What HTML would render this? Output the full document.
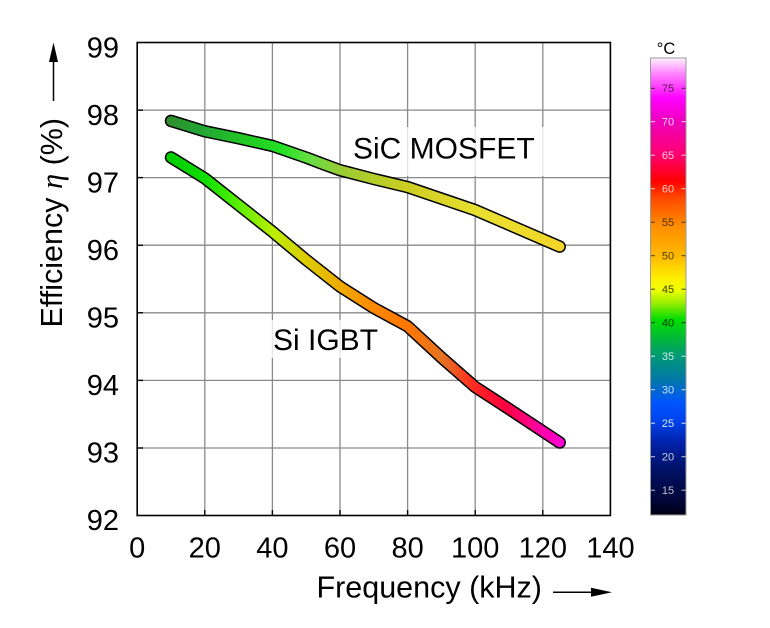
<!DOCTYPE html>
<html>
<head>
<meta charset="utf-8">
<style>
  html, body { margin: 0; padding: 0; background: #ffffff; }
  svg { display: block; }
  text { font-family: "Liberation Sans", Arial, sans-serif; fill: #000; }
</style>
</head>
<body>
<svg width="770" height="628" viewBox="0 0 770 628" xmlns="http://www.w3.org/2000/svg">
  <defs>
    <linearGradient id="gSiC" gradientUnits="userSpaceOnUse" x1="165" y1="0" x2="566" y2="0">
      <stop offset="0" stop-color="#2e8b2e"/>
      <stop offset="0.10" stop-color="#22a833"/>
      <stop offset="0.21" stop-color="#22cc22"/>
      <stop offset="0.29" stop-color="#22e022"/>
      <stop offset="0.36" stop-color="#66dd44"/>
      <stop offset="0.44" stop-color="#99cc33"/>
      <stop offset="0.60" stop-color="#cccc22"/>
      <stop offset="0.78" stop-color="#e8e030"/>
      <stop offset="1" stop-color="#f2d42a"/>
    </linearGradient>
    <linearGradient id="gSi" gradientUnits="userSpaceOnUse" x1="165" y1="0" x2="566" y2="0">
      <stop offset="0" stop-color="#00cc00"/>
      <stop offset="0.10" stop-color="#11dd00"/>
      <stop offset="0.18" stop-color="#55ee00"/>
      <stop offset="0.27" stop-color="#bbee00"/>
      <stop offset="0.35" stop-color="#ddcc00"/>
      <stop offset="0.44" stop-color="#eeaa00"/>
      <stop offset="0.52" stop-color="#ff8800"/>
      <stop offset="0.60" stop-color="#ff7700"/>
      <stop offset="0.69" stop-color="#e47422"/>
      <stop offset="0.77" stop-color="#ff2a20"/>
      <stop offset="0.85" stop-color="#ff0040"/>
      <stop offset="0.93" stop-color="#ff00a0"/>
      <stop offset="1" stop-color="#ff00dd"/>
    </linearGradient>
    <linearGradient id="gBar" gradientUnits="userSpaceOnUse" x1="0" y1="58" x2="0" y2="515">
      <stop offset="0" stop-color="#fff2ff"/>
      <stop offset="0.033" stop-color="#ff88ff"/>
      <stop offset="0.088" stop-color="#ff00ff"/>
      <stop offset="0.139" stop-color="#ee00bb"/>
      <stop offset="0.212" stop-color="#ff0070"/>
      <stop offset="0.270" stop-color="#ff0000"/>
      <stop offset="0.303" stop-color="#ff4400"/>
      <stop offset="0.361" stop-color="#ff8800"/>
      <stop offset="0.435" stop-color="#ffbb00"/>
      <stop offset="0.482" stop-color="#ffee00"/>
      <stop offset="0.508" stop-color="#eeff00"/>
      <stop offset="0.536" stop-color="#99ee00"/>
      <stop offset="0.573" stop-color="#00dd00"/>
      <stop offset="0.610" stop-color="#00bb33"/>
      <stop offset="0.653" stop-color="#009977"/>
      <stop offset="0.705" stop-color="#0077aa"/>
      <stop offset="0.755" stop-color="#0055ff"/>
      <stop offset="0.792" stop-color="#0044ee"/>
      <stop offset="0.842" stop-color="#0022aa"/>
      <stop offset="0.901" stop-color="#001166"/>
      <stop offset="0.974" stop-color="#000533"/>
      <stop offset="1" stop-color="#000011"/>
    </linearGradient>
  </defs>

  <!-- grid -->
  <g stroke="#8a8a8a" stroke-width="1.3">
    <line x1="204.8" y1="42.5" x2="204.8" y2="515.5"/>
    <line x1="272.4" y1="42.5" x2="272.4" y2="515.5"/>
    <line x1="340" y1="42.5" x2="340" y2="515.5"/>
    <line x1="407.6" y1="42.5" x2="407.6" y2="515.5"/>
    <line x1="475.2" y1="42.5" x2="475.2" y2="515.5"/>
    <line x1="542.8" y1="42.5" x2="542.8" y2="515.5"/>
    <line x1="137.2" y1="110.1" x2="610.4" y2="110.1"/>
    <line x1="137.2" y1="177.6" x2="610.4" y2="177.6"/>
    <line x1="137.2" y1="245.2" x2="610.4" y2="245.2"/>
    <line x1="137.2" y1="312.8" x2="610.4" y2="312.8"/>
    <line x1="137.2" y1="380.4" x2="610.4" y2="380.4"/>
    <line x1="137.2" y1="448.0" x2="610.4" y2="448.0"/>
  </g>

  <!-- inner ticks -->
  <g stroke="#000" stroke-width="1.4">
    <line x1="137.2" y1="110.1" x2="143" y2="110.1"/>
    <line x1="137.2" y1="177.6" x2="143" y2="177.6"/>
    <line x1="137.2" y1="245.2" x2="143" y2="245.2"/>
    <line x1="137.2" y1="312.8" x2="143" y2="312.8"/>
    <line x1="137.2" y1="380.4" x2="143" y2="380.4"/>
    <line x1="137.2" y1="448.0" x2="143" y2="448.0"/>
    <line x1="204.8" y1="515.5" x2="204.8" y2="510"/>
    <line x1="272.4" y1="515.5" x2="272.4" y2="510"/>
    <line x1="340" y1="515.5" x2="340" y2="510"/>
    <line x1="407.6" y1="515.5" x2="407.6" y2="510"/>
    <line x1="475.2" y1="515.5" x2="475.2" y2="510"/>
    <line x1="542.8" y1="515.5" x2="542.8" y2="510"/>
  </g>

  <!-- label backgrounds -->
  <rect x="347" y="127" width="198" height="49" fill="#ffffff" fill-opacity="0.78"/>
  <rect x="268" y="320" width="114" height="38" fill="#ffffff" fill-opacity="0.78"/>

  <!-- frame -->
  <rect x="137.2" y="42.5" width="473.2" height="473" fill="none" stroke="#000" stroke-width="1.6"/>

  <!-- SiC MOSFET curve -->
  <polyline points="171,120.9 204.8,131.3 238.6,138.3 272.4,145.9 306.2,157.6 323,164 340,170.2 373.8,179 407.6,187.1 475.2,210.1 559.7,246.6"
    fill="none" stroke="#000" stroke-width="12.5" stroke-linecap="round" stroke-linejoin="round"/>
  <polyline points="171,120.9 204.8,131.3 238.6,138.3 272.4,145.9 306.2,157.6 323,164 340,170.2 373.8,179 407.6,187.1 475.2,210.1 559.7,246.6"
    fill="none" stroke="url(#gSiC)" stroke-width="9.5" stroke-linecap="round" stroke-linejoin="round"/>

  <!-- Si IGBT curve -->
  <polyline points="171,157.4 204.8,178.3 238.6,205 272.4,231.7 306.2,259.9 340,286.5 373.8,308 407.6,326.3 441.4,357.5 475.2,387 509,409 559.7,442.5"
    fill="none" stroke="#000" stroke-width="12.5" stroke-linecap="round" stroke-linejoin="round"/>
  <polyline points="171,157.4 204.8,178.3 238.6,205 272.4,231.7 306.2,259.9 340,286.5 373.8,308 407.6,326.3 441.4,357.5 475.2,387 509,409 559.7,442.5"
    fill="none" stroke="url(#gSi)" stroke-width="9.5" stroke-linecap="round" stroke-linejoin="round"/>

  <!-- series labels -->
  <text x="353" y="158.3" font-size="30">SiC MOSFET</text>
  <text x="273" y="350" font-size="30">Si IGBT</text>

  <!-- y tick labels -->
  <g font-size="29" text-anchor="end">
    <text x="119" y="57.5">99</text>
    <text x="119" y="125">98</text>
    <text x="119" y="192.5">97</text>
    <text x="119" y="260">96</text>
    <text x="119" y="327.5">95</text>
    <text x="119" y="395">94</text>
    <text x="119" y="462.5">93</text>
    <text x="119" y="530">92</text>
  </g>

  <!-- x tick labels -->
  <g font-size="29" text-anchor="middle">
    <text x="137.2" y="557.5">0</text>
    <text x="204.8" y="557.5">20</text>
    <text x="272.4" y="557.5">40</text>
    <text x="340" y="557.5">60</text>
    <text x="407.6" y="557.5">80</text>
    <text x="475.2" y="557.5">100</text>
    <text x="542.8" y="557.5">120</text>
    <text x="610.4" y="557.5">140</text>
  </g>

  <!-- x axis title -->
  <text x="316.5" y="597.5" font-size="30.5">Frequency (kHz)</text>
  <line x1="553" y1="592.3" x2="595" y2="592.3" stroke="#000" stroke-width="1.5"/>
  <polygon points="591,587.8 612,592.3 591,596.8" fill="#000"/>

  <!-- y axis title -->
  <g transform="translate(62,327.5) rotate(-90)">
    <text x="0" y="0" font-size="30.5">Efficiency <tspan font-family="Liberation Serif, serif" font-style="italic">η</tspan> (%)</text>
  </g>
  <line x1="53.5" y1="101" x2="53.5" y2="58" stroke="#000" stroke-width="1.5"/>
  <polygon points="49,62 53.5,42.5 58,62" fill="#000"/>

  <!-- colorbar -->
  <text x="666" y="54" font-size="16.5" text-anchor="middle">°C</text>
  <rect x="650.5" y="58" width="35.5" height="457" fill="url(#gBar)" stroke="#9a9a9a" stroke-width="1"/>
  <g font-size="11" text-anchor="middle">
    <g stroke="#5a2050" stroke-width="1"><line x1="651" y1="88.3" x2="655" y2="88.3"/><line x1="681.5" y1="88.3" x2="685.5" y2="88.3"/></g>
    <text x="668" y="92" style="fill:#5a2050">75</text>
    <g stroke="#ffd0f0" stroke-width="1"><line x1="651" y1="121.7" x2="655" y2="121.7"/><line x1="681.5" y1="121.7" x2="685.5" y2="121.7"/></g>
    <text x="668" y="125.5" style="fill:#ffd0f0">70</text>
    <g stroke="#ffc8dc" stroke-width="1"><line x1="651" y1="155.2" x2="655" y2="155.2"/><line x1="681.5" y1="155.2" x2="685.5" y2="155.2"/></g>
    <text x="668" y="159" style="fill:#ffc8dc">65</text>
    <g stroke="#ffc8c8" stroke-width="1"><line x1="651" y1="188.7" x2="655" y2="188.7"/><line x1="681.5" y1="188.7" x2="685.5" y2="188.7"/></g>
    <text x="668" y="192.5" style="fill:#ffc8c8">60</text>
    <g stroke="#503000" stroke-width="1"><line x1="651" y1="222.2" x2="655" y2="222.2"/><line x1="681.5" y1="222.2" x2="685.5" y2="222.2"/></g>
    <text x="668" y="226" style="fill:#503000">55</text>
    <g stroke="#504000" stroke-width="1"><line x1="651" y1="255.7" x2="655" y2="255.7"/><line x1="681.5" y1="255.7" x2="685.5" y2="255.7"/></g>
    <text x="668" y="259.5" style="fill:#504000">50</text>
    <g stroke="#404000" stroke-width="1"><line x1="651" y1="289.2" x2="655" y2="289.2"/><line x1="681.5" y1="289.2" x2="685.5" y2="289.2"/></g>
    <text x="668" y="293" style="fill:#404000">45</text>
    <g stroke="#003c00" stroke-width="1"><line x1="651" y1="322.7" x2="655" y2="322.7"/><line x1="681.5" y1="322.7" x2="685.5" y2="322.7"/></g>
    <text x="668" y="326.5" style="fill:#003c00">40</text>
    <g stroke="#c8f0e0" stroke-width="1"><line x1="651" y1="356.2" x2="655" y2="356.2"/><line x1="681.5" y1="356.2" x2="685.5" y2="356.2"/></g>
    <text x="668" y="360" style="fill:#c8f0e0">35</text>
    <g stroke="#c8e0ff" stroke-width="1"><line x1="651" y1="389.7" x2="655" y2="389.7"/><line x1="681.5" y1="389.7" x2="685.5" y2="389.7"/></g>
    <text x="668" y="393.5" style="fill:#c8e0ff">30</text>
    <g stroke="#d8e8ff" stroke-width="1"><line x1="651" y1="423.2" x2="655" y2="423.2"/><line x1="681.5" y1="423.2" x2="685.5" y2="423.2"/></g>
    <text x="668" y="427" style="fill:#d8e8ff">25</text>
    <g stroke="#ccccdd" stroke-width="1"><line x1="651" y1="456.7" x2="655" y2="456.7"/><line x1="681.5" y1="456.7" x2="685.5" y2="456.7"/></g>
    <text x="668" y="460.5" style="fill:#ccccdd">20</text>
    <g stroke="#c0c0c8" stroke-width="1"><line x1="651" y1="490.2" x2="655" y2="490.2"/><line x1="681.5" y1="490.2" x2="685.5" y2="490.2"/></g>
    <text x="668" y="494" style="fill:#c0c0c8">15</text>
  </g>
</svg>
</body>
</html>
